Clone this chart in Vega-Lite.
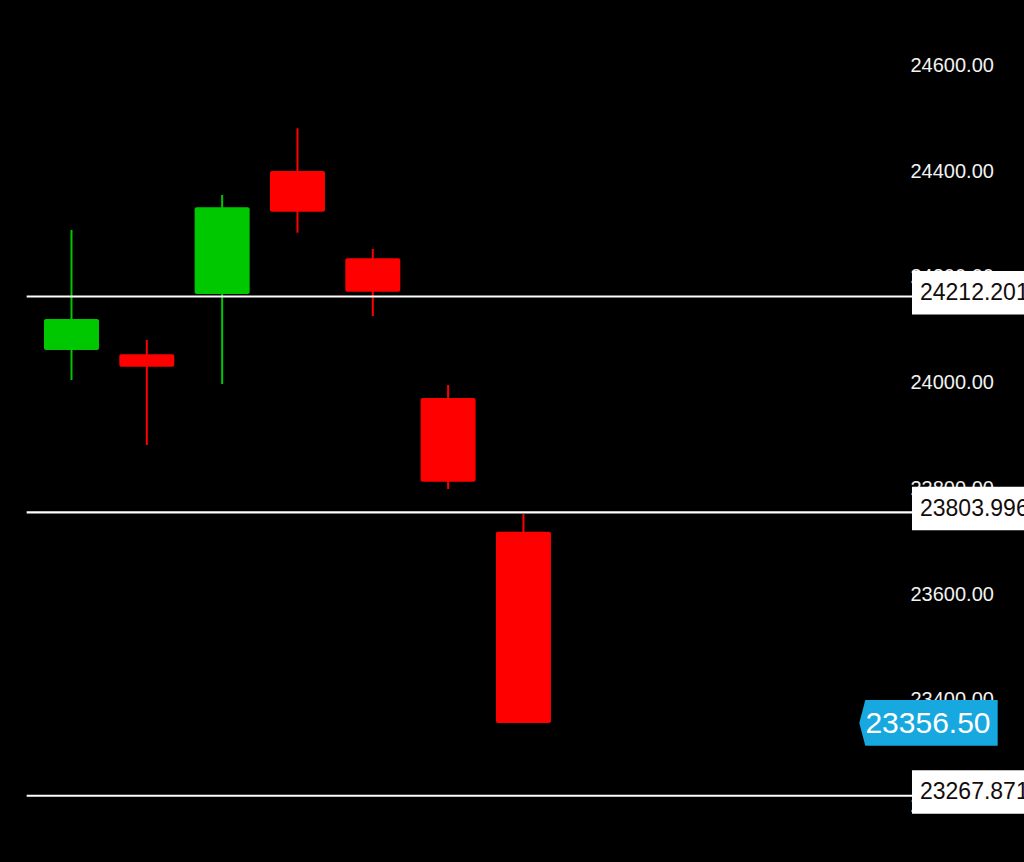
{
  "$schema": "https://vega.github.io/schema/vega-lite/v6.json",
  "width": 1024,
  "height": 862,
  "padding": 0,
  "autosize": {"type": "none"},
  "background": "#000000",
  "config": {"view": {"stroke": null}, "font": "Liberation Sans"},
  "datasets": {
    "candles": [
      {"i": 0, "open": 24061.9, "high": 24288.8, "low": 24005.1, "close": 24120.5},
      {"i": 1, "open": 24053.7, "high": 24080.8, "low": 23882.2, "close": 24030.3},
      {"i": 2, "open": 24167.8, "high": 24355.0, "low": 23997.5, "close": 24331.8},
      {"i": 3, "open": 24400.4, "high": 24481.2, "low": 24283.7, "close": 24323.4},
      {"i": 4, "open": 24235.3, "high": 24252.9, "low": 24126.2, "close": 24172.1},
      {"i": 5, "open": 23971.1, "high": 23995.6, "low": 23798.9, "close": 23812.8},
      {"i": 6, "open": 23718.2, "high": 23751.7, "low": 23356.5, "close": 23356.5}
    ],
    "levels": [
      {"level": 24212.201},
      {"level": 23803.996},
      {"level": 23267.871}
    ],
    "last": [{"price": 23356.5}]
  },
  "layer": [
    {
      "data": {"name": "candles"},
      "mark": {"type": "rule", "strokeWidth": 2},
      "encoding": {
        "x": {"field": "i", "type": "quantitative", "axis": null,
              "scale": {"domain": [-0.949, 12.645], "nice": false, "zero": false, "padding": 0}},
        "y": {"field": "low", "type": "quantitative", "title": null,
              "scale": {"domain": [23093.4, 24723.9], "nice": false, "zero": false, "padding": 0},
              "axis": {"orient": "right", "offset": -114,
                       "values": [23200, 23400, 23600, 23800, 24000, 24200, 24400, 24600],
                       "format": ".2f", "labelFont": "Liberation Sans", "labelFontSize": 20,
                       "labelColor": "#f2f2f2", "labelPadding": 0, "labelAlign": "left",
                       "labelBaseline": "middle", "labelOverlap": false,
                       "ticks": false, "domain": false, "grid": false}},
        "y2": {"field": "high"},
        "color": {"condition": {"test": "datum.close >= datum.open", "value": "#00c800"}, "value": "#ff0000"}
      }
    },
    {
      "data": {"name": "candles"},
      "mark": {"type": "bar", "width": 55, "cornerRadius": 2},
      "encoding": {
        "x": {"field": "i", "type": "quantitative", "axis": null},
        "y": {"field": "open", "type": "quantitative", "title": null},
        "y2": {"field": "close"},
        "color": {"condition": {"test": "datum.close >= datum.open", "value": "#00c800"}, "value": "#ff0000"}
      }
    },
    {
      "data": {"name": "levels"},
      "mark": {"type": "rule", "color": "#ffffff", "strokeWidth": 2.2, "yOffset": 26},
      "encoding": {
        "x": {"datum": -0.595, "type": "quantitative", "axis": null},
        "x2": {"datum": 12.645},
        "y": {"field": "level", "type": "quantitative", "title": null}
      }
    },
    {
      "data": {"name": "levels"},
      "mark": {"type": "rect", "color": "#ffffff", "yOffset": 0.5, "y2Offset": 44},
      "encoding": {
        "x": {"datum": 11.158, "type": "quantitative", "axis": null},
        "x2": {"datum": 12.645},
        "y": {"field": "level", "type": "quantitative", "title": null},
        "y2": {"field": "level"}
      }
    },
    {
      "data": {"name": "levels"},
      "mark": {"type": "text", "align": "left", "baseline": "middle", "fontSize": 23,
               "color": "#140c0c", "yOffset": 22.5},
      "encoding": {
        "x": {"datum": 11.264, "type": "quantitative", "axis": null},
        "y": {"field": "level", "type": "quantitative", "title": null},
        "text": {"field": "level", "type": "quantitative", "format": ".3f"}
      }
    },
    {
      "data": {"name": "last"},
      "mark": {"type": "point", "shape": "M-1,0L-0.913,-0.33L1,-0.33L1,0.33L-0.913,0.33Z",
               "size": 19155, "filled": true, "color": "#18a8e0", "opacity": 1, "strokeWidth": 0},
      "encoding": {
        "x": {"datum": 11.377, "type": "quantitative", "axis": null},
        "y": {"field": "price", "type": "quantitative", "title": null}
      }
    },
    {
      "data": {"name": "last"},
      "mark": {"type": "text", "align": "center", "baseline": "middle", "fontSize": 30,
               "color": "#ffffff", "dy": 1},
      "encoding": {
        "x": {"datum": 11.37, "type": "quantitative", "axis": null},
        "y": {"field": "price", "type": "quantitative", "title": null},
        "text": {"field": "price", "type": "quantitative", "format": ".2f"}
      }
    }
  ]
}
